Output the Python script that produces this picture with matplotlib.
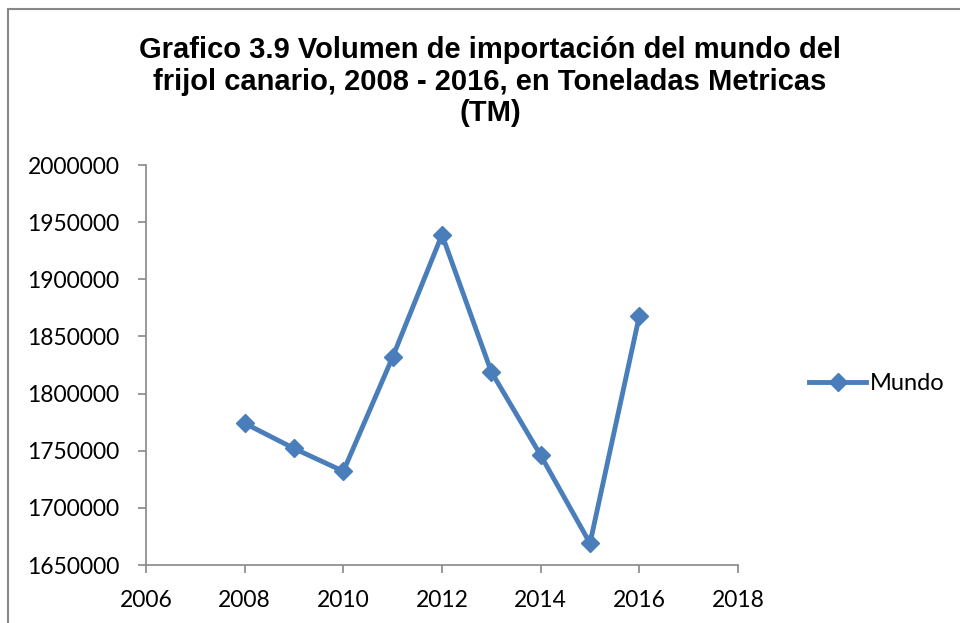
import matplotlib
matplotlib.use("Agg")
import matplotlib.pyplot as plt
from matplotlib.patches import Rectangle

years = [2008, 2009, 2010, 2011, 2012, 2013, 2014, 2015, 2016]
mundo = [1774000, 1752000, 1732000, 1832000, 1939000, 1819000, 1746000, 1669000, 1868000]
xticks = [2006, 2008, 2010, 2012, 2014, 2016, 2018]
yticks = [1650000, 1700000, 1750000, 1800000, 1850000, 1900000, 1950000, 2000000]
title = "Grafico 3.9 Volumen de importación del mundo del\nfrijol canario, 2008 - 2016, en Toneladas Metricas\n(TM)"

fig = plt.figure(figsize=(9.6, 6.23), dpi=100)
ax = fig.add_axes([146/960, 1-565/623, (738-146)/960, (565-165)/623])
color = "#4A7EBB"
ax.plot(years, mundo, color=color, lw=3.5, marker="D", ms=9, mfc=color, mec=color, label="Mundo")
ax.set_xlim(2006, 2018)
ax.set_ylim(1650000, 2000000)
ax.set_xticks(xticks)
ax.set_yticks(yticks)
ax.set_xticklabels([str(v) for v in xticks])
ax.set_yticklabels([str(v) for v in yticks])
for s in ["top", "right"]:
    ax.spines[s].set_visible(False)
for s in ["left", "bottom"]:
    ax.spines[s].set_color("#888888")
    ax.spines[s].set_linewidth(1.2)
ax.tick_params(axis="both", direction="out", length=6, width=1.2, color="#888888",
               labelsize=16.5, labelcolor="black")
for lab in ax.get_xticklabels() + ax.get_yticklabels():
    lab.set_family("Lato")
ax.tick_params(axis="x", pad=12)
ax.tick_params(axis="y", pad=13)

fig.text(490/960, 1-36/623, title, ha="center", va="top", fontsize=21, fontweight="bold",
         family="Liberation Sans", linespacing=1.17)

leg = fig.legend(loc="center left", bbox_to_anchor=(788/960, 1-384/623), frameon=False,
                 prop={"family": "Lato", "size": 17}, handlelength=2.4, handletextpad=0.15)

fig.patches.append(Rectangle((8/960, -0.05), 1.0, 1.05-9/623, transform=fig.transFigure,
                             fill=False, ec="#888888", lw=1.5, clip_on=False))
fig.savefig("out.png", dpi=100)
